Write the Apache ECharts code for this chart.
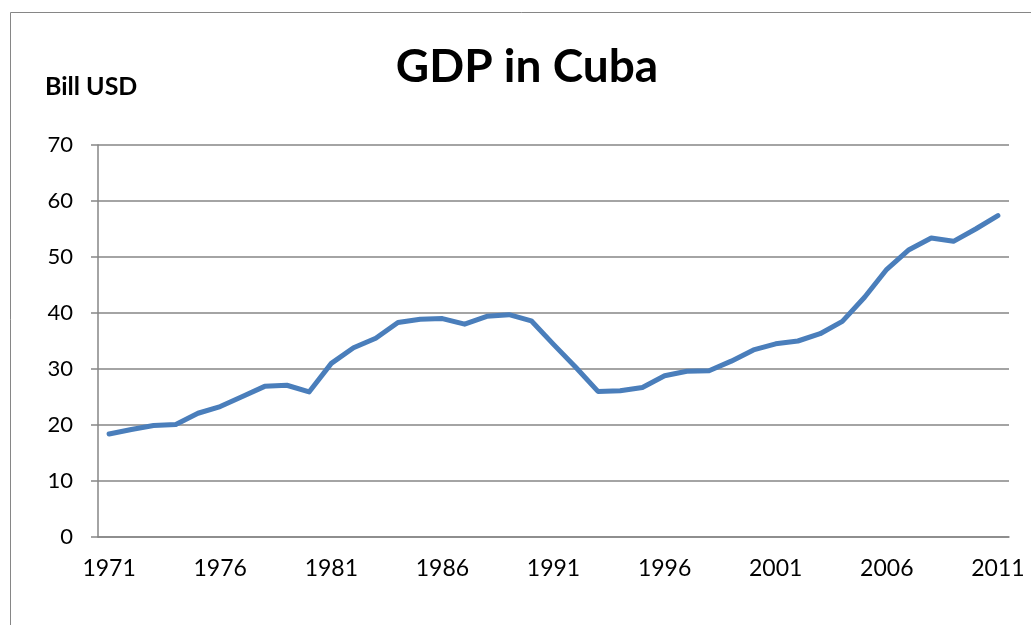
<!DOCTYPE html>
<html>
<head>
<meta charset="utf-8">
<script src="https://cdn.jsdelivr.net/npm/echarts@6/dist/echarts.min.js"></script>
<style>
  html, body { margin: 0; padding: 0; background: #fff; }
  #chart { width: 1031px; height: 625px; }
</style>
</head>
<body>
<div id="chart"></div>
<script>
  // years on the category axis
  var years = ['1971', '1972', '1973', '1974', '1975', '1976', '1977', '1978', '1979', '1980',
    '1981', '1982', '1983', '1984', '1985', '1986', '1987', '1988', '1989', '1990',
    '1991', '1992', '1993', '1994', '1995', '1996', '1997', '1998', '1999', '2000',
    '2001', '2002', '2003', '2004', '2005', '2006', '2007', '2008', '2009', '2010', '2011']

  // GDP, billion USD
  var gdp = [18.4, 19.2, 19.9, 20.1, 22.1, 23.3, 25.1, 26.9, 27.1, 25.9,
    31.0, 33.8, 35.5, 38.3, 38.9, 39.0, 38.0, 39.4, 39.7, 38.6,
    34.4, 30.3, 26.0, 26.1, 26.7, 28.8, 29.6, 29.7, 31.4, 33.4,
    34.5, 35.0, 36.3, 38.5, 42.8, 47.8, 51.3, 53.4, 52.8, 55.0, 57.4]

  var font = 'Lato, "Open Sans", sans-serif'
  var gray = '#868686'

  var myChart = echarts.init(document.getElementById('chart'))

  var option = {
    animation: false,
    backgroundColor: '#fff',
    title: {
      text: 'GDP in Cuba',
      left: 522,
      top: 39,
      textAlign: 'center',
      textStyle: { fontFamily: font, fontWeight: 'bold', fontSize: 46, color: '#000' }
    },
    graphic: [
      {
        type: 'rect',
        shape: { x: 10.5, y: 12.5, width: 1100, height: 700 },
        style: { fill: null, stroke: gray, lineWidth: 1 }
      },
      {
        type: 'text',
        left: 45,
        top: 74,
        style: { text: 'Bill USD', fontFamily: font, fontWeight: 'bold', fontSize: 25, fill: '#000' }
      }
    ],
    grid: { left: 98, right: 22, top: 145, bottom: 88 },
    xAxis: {
      type: 'category',
      data: years,
      boundaryGap: true,
      axisLine: { lineStyle: { color: gray, width: 1.5 } },
      axisTick: { interval: 0, length: 7, lineStyle: { color: gray, width: 1.5 } },
      axisLabel: { interval: 4, margin: 20, fontFamily: font, fontSize: 23, color: '#000' }
    },
    yAxis: {
      type: 'value',
      min: 0,
      max: 70,
      interval: 10,
      axisLine: { show: true, lineStyle: { color: gray, width: 1.5 } },
      axisTick: { show: true, length: 7, lineStyle: { color: gray, width: 1.5 } },
      axisLabel: { margin: 25, fontFamily: font, fontSize: 22, color: '#000' },
      splitLine: { lineStyle: { color: gray, width: 1.5 } }
    },
    series: [
      {
        name: 'GDP',
        type: 'line',
        data: gdp,
        symbol: 'none',
        lineStyle: { color: '#4a7ebb', width: 5, cap: 'round', join: 'round' }
      }
    ]
  }
  myChart.setOption(option)
</script>
</body>
</html>
